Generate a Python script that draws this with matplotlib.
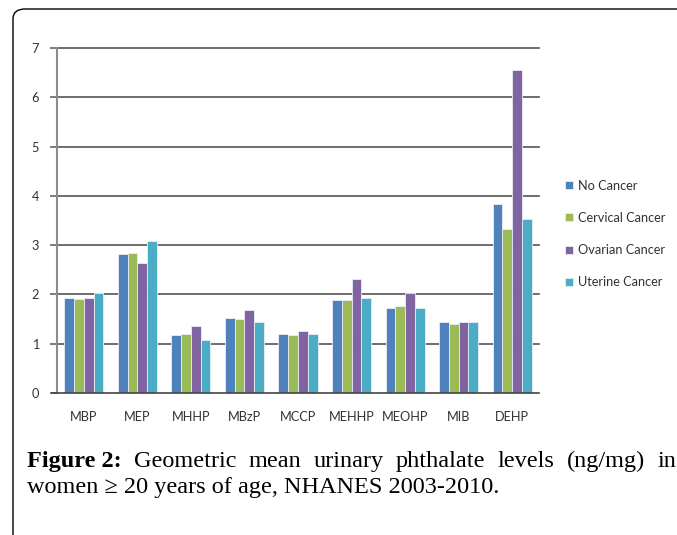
import matplotlib
matplotlib.use("Agg")
import matplotlib.pyplot as plt
import numpy as np
from matplotlib.patches import FancyBboxPatch

categories = ["MBP", "MEP", "MHHP", "MBzP", "MCCP", "MEHHP", "MEOHP", "MIB", "DEHP"]
series_names = ["No Cancer", "Cervical Cancer", "Ovarian Cancer", "Uterine Cancer"]
no_cancer = [1.93, 2.82, 1.18, 1.53, 1.20, 1.88, 1.72, 1.45, 3.84]
cervical = [1.90, 2.84, 1.20, 1.51, 1.18, 1.88, 1.76, 1.39, 3.32]
ovarian = [1.93, 2.64, 1.36, 1.68, 1.26, 2.32, 2.03, 1.45, 6.55]
uterine = [2.03, 3.09, 1.07, 1.45, 1.20, 1.93, 1.72, 1.45, 3.53]
yticks = [0, 1, 2, 3, 4, 5, 6, 7]
caption_line1 = ["Geometric", "mean", "urinary", "phthalate", "levels", "(ng/mg)", "in"]
caption_bold = "Figure 2:"
caption_line2 = "women \u2265 20 years of age, NHANES 2003-2010."

colors = ["#4F81BD", "#9BBB59", "#8064A2", "#4BACC6"]
sans = ["Lato", "DejaVu Sans"]
serif = ["Liberation Serif", "DejaVu Serif"]
fsz = 9.2

W, H = 677, 535
fig = plt.figure(figsize=(W / 100, H / 100), dpi=100)
ax = fig.add_axes([57 / W, 1 - 393 / H, (539 - 57) / W, (393 - 48) / H])

data = [no_cancer, cervical, ovarian, uterine]
x = np.arange(len(categories))
group_w = 0.73
bw = group_w / 4
for i, (vals, c, name) in enumerate(zip(data, colors, series_names)):
    ax.bar(x - group_w / 2 + bw * (i + 0.5), vals, width=bw, color=c,
           edgecolor="#e8eef6", linewidth=0.6, label=name, zorder=3)

ax.set_xlim(-0.5, len(categories) - 0.5)
ax.set_ylim(0, 7)
ax.set_yticks(yticks)
ax.set_xticks(x)
ax.set_xticklabels(categories, family=sans, fontsize=fsz, color="#333333")
for lab in ax.get_yticklabels():
    lab.set_family(sans)
    lab.set_fontsize(fsz)
    lab.set_color("#333333")
ax.tick_params(axis="x", length=0, pad=13)
ax.tick_params(axis="y", length=5, width=1.2, color="#666666", pad=8)
for y in yticks[1:]:
    ax.axhline(y, color="#555555", linewidth=1.2, zorder=1, clip_on=False)
for s in ["top", "right"]:
    ax.spines[s].set_visible(False)
ax.spines["left"].set_color("#8c8c8c")
ax.spines["left"].set_linewidth(1.5)
ax.spines["bottom"].set_color("#444444")
ax.spines["bottom"].set_linewidth(1.2)
ax.spines["bottom"].set_bounds(-0.5 - 5 / 53.6, len(categories) - 0.5)
ax.spines["bottom"].set_zorder(4)

leg = ax.legend(loc="center left", bbox_to_anchor=(559 / W, 1 - 234 / H),
                bbox_transform=fig.transFigure, frameon=False,
                prop={"family": sans, "size": fsz}, handlelength=0.6,
                handleheight=0.6, handletextpad=0.4, labelspacing=1.58,
                borderpad=0)
for t in leg.get_texts():
    t.set_color("#333333")

# frame
frame = FancyBboxPatch((13 / W, -0.2), 1.2, 1 - 9 / H + 0.2,
                       boxstyle="round,pad=0,rounding_size=0.018",
                       transform=fig.transFigure, fill=False,
                       edgecolor="black", linewidth=1.0, clip_on=False)
fig.patches.append(frame)

# caption
left_px, right_px = 27, 676
r = fig.canvas.get_renderer()
probe = fig.text(0, 0, caption_line2, family=serif, fontsize=14)
wpx = probe.get_window_extent(r).width
fs = 14 * 476 / wpx
probe.remove()

t2 = fig.text(left_px / W, 1 - 493 / H, caption_line2, family=serif, fontsize=fs,
              color="black", va="baseline")

tokens = [fig.text(0, 1 - 467 / H, caption_bold, family=serif, fontsize=fs,
                   weight="bold", va="baseline")]
for w in caption_line1:
    tokens.append(fig.text(0, 1 - 467 / H, w, family=serif, fontsize=fs,
                           va="baseline"))
widths = [t.get_window_extent(r).width for t in tokens]
gap = (right_px - left_px - sum(widths)) / (len(tokens) - 1)
pos = left_px
for t, w in zip(tokens, widths):
    t.set_x(pos / W)
    pos += w + gap

fig.savefig("out.png", dpi=100)
